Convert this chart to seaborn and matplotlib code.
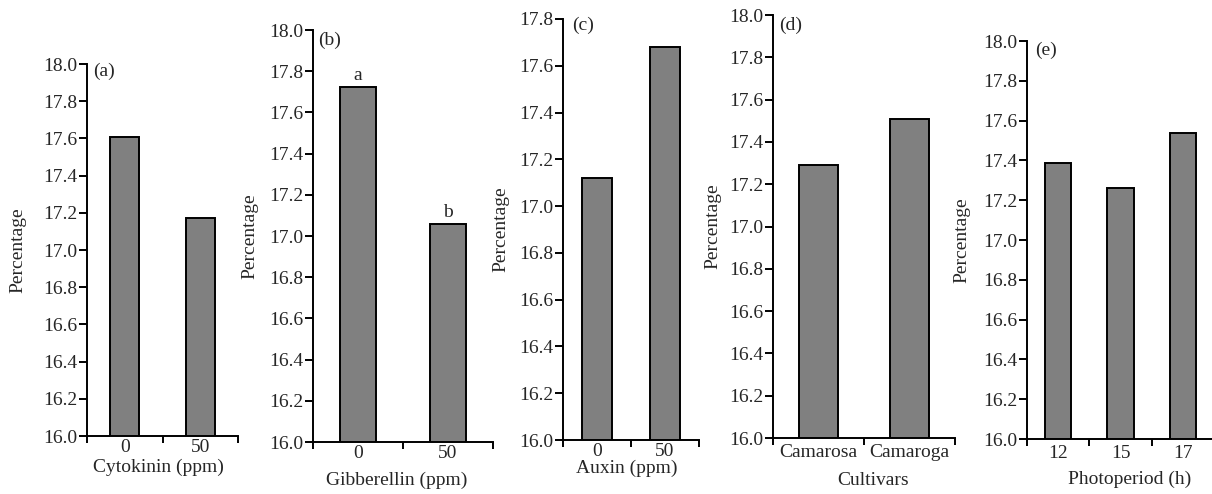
import numpy as np
import matplotlib
matplotlib.use("Agg")
import matplotlib.pyplot as plt
import seaborn as sns

# ---- data ----
cyto_cats = ["0", "50"]
cyto_vals = [17.61, 17.17]
gibb_cats = ["0", "50"]
gibb_vals = [17.725, 17.06]
gibb_letters = ["a", "b"]
aux_cats = ["0", "50"]
aux_vals = [17.12, 17.68]
cult_cats = ["Camarosa", "Camaroga"]
cult_vals = [17.29, 17.51]
photo_cats = ["12", "15", "17"]
photo_vals = [17.385, 17.26, 17.54]

sns.set_style("ticks")
plt.rcParams["font.family"] = ["Liberation Serif", "DejaVu Serif"]
plt.rcParams["font.size"] = 14

W, H = 1212, 494
fig = plt.figure(figsize=(W / 100, H / 100), dpi=100)

panels = [
    # cats, vals, xlabel, tag, ymax, (L, R, T, B), ylab_x, xlab_xy, tag_off, xpad, width
    (cyto_cats, cyto_vals, "Cytokinin (ppm)", "(a)", 18.0, (87, 238, 64, 436), 18, (158, 467), (6, -7), 2, 0.39),
    (gibb_cats, gibb_vals, "Gibberellin (ppm)", "(b)", 18.0, (313, 493, 30, 442), 250, (397, 480), (5, -10), 2, 0.40),
    (aux_cats, aux_vals, "Auxin (ppm)", "(c)", 17.8, (563, 699, 19, 440), 501, (627, 468), (9, -6), 2, 0.43),
    (cult_cats, cult_vals, "Cultivars", "(d)", 18.0, (773, 955, 15, 438), 713, (873, 480), (6, -10), 4, 0.42),
    (photo_cats, photo_vals, "Photoperiod (h)", "(e)", 18.0, (1027, 1214, 41, 439), 962, (1130, 479), (8, -9), 4, 0.42),
]

for idx, (cats, vals, xlab, tag, ymax, box, ylx, xlxy, toff, xpad, bw) in enumerate(panels):
    L, R, T, B = box
    ax = fig.add_axes([L / W, 1 - B / H, (R - L) / W, (B - T) / H])
    sns.barplot(x=cats, y=vals, ax=ax, color="#808080", saturation=1,
                edgecolor="black", linewidth=1.4, width=bw)
    n = len(cats)
    ax.set_xlim(-0.5, n - 0.5)
    ax.set_ylim(16.0, ymax)
    yt = np.round(np.arange(16.0, ymax + 0.001, 0.2), 1)
    ax.set_yticks(yt)
    ax.set_yticklabels([f"{v:.1f}" for v in yt])
    ax.set_xticks(range(n))
    ax.set_xticklabels(cats)
    ax.set_xticks(np.arange(-0.5, n, 1.0), minor=True)
    ax.tick_params(axis="x", which="major", length=0, pad=xpad, labelsize=14)
    ax.tick_params(axis="x", which="minor", length=5, width=1.4, direction="out", color="black")
    ax.tick_params(axis="y", length=6, width=1.4, pad=1, labelsize=14, color="black")
    for s in ["top", "right"]:
        ax.spines[s].set_visible(False)
    for s in ["left", "bottom"]:
        ax.spines[s].set_linewidth(1.4)
        ax.spines[s].set_color("black")
    ax.set_ylabel("Percentage", fontsize=14)
    ax.set_xlabel(xlab, fontsize=14)
    ax.yaxis.label.set_va("center")
    ax.xaxis.label.set_va("center")
    ax.yaxis.set_label_coords(ylx / W, 1 - ((T + B) / 2) / H, transform=fig.transFigure)
    ax.xaxis.set_label_coords(xlxy[0] / W, 1 - xlxy[1] / H, transform=fig.transFigure)
    ax.annotate(tag, xy=(0, 1), xycoords="axes fraction", xytext=toff,
                textcoords="offset pixels", ha="left", va="center", fontsize=14)
    if idx == 1:
        for i, (v, lt) in enumerate(zip(vals, gibb_letters)):
            ax.annotate(lt, xy=(i, v), xytext=(0, 3), textcoords="offset pixels",
                        ha="center", va="bottom", fontsize=14)
    ax.set_facecolor("white")

fig.savefig("out.png", dpi=100, facecolor="white")
